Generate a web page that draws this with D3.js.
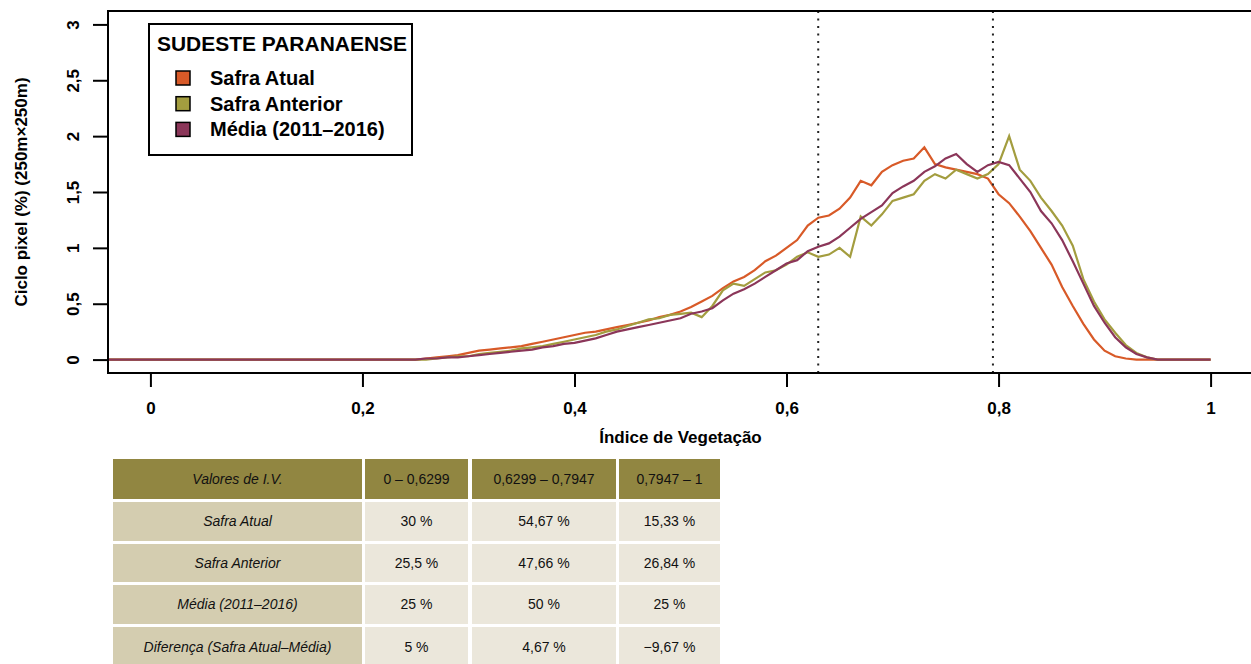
<!DOCTYPE html>
<html><head><meta charset="utf-8">
<script src="https://cdn.jsdelivr.net/npm/d3@7"></script>
<style>
html,body{margin:0;padding:0;background:#fff;}
svg{display:block;font-family:"Liberation Sans",Arial,sans-serif;}
</style></head>
<body>
<svg id="chart" width="1251" height="664"></svg>
<script>
// ---------- data ----------
const ivStart = 0.25, ivStep = 0.01;
const safraAtual = [0,0.01,0.02,0.03,0.04,0.06,0.08,0.09,0.10,0.11,0.12,0.14,0.16,0.18,0.20,0.22,0.24,0.25,0.27,0.29,
  0.31,0.33,0.35,0.38,0.40,0.43,0.47,0.52,0.57,0.64,0.70,0.74,0.80,0.88,0.93,1.00,1.07,1.20,1.27,1.29,
  1.35,1.45,1.60,1.56,1.68,1.74,1.78,1.80,1.90,1.75,1.72,1.70,1.68,1.66,1.62,1.48,1.40,1.28,1.15,1.00,
  0.85,0.65,0.48,0.32,0.18,0.08,0.03,0.01,0,0,0,0];
const safraAnterior = [0,0,0.01,0.02,0.03,0.03,0.05,0.06,0.07,0.08,0.10,0.11,0.12,0.14,0.16,0.18,0.20,0.22,0.25,0.27,
  0.30,0.33,0.36,0.37,0.40,0.41,0.42,0.38,0.48,0.62,0.68,0.66,0.72,0.78,0.80,0.85,0.92,0.96,0.92,0.94,
  1.00,0.92,1.28,1.20,1.30,1.42,1.45,1.48,1.60,1.66,1.62,1.70,1.66,1.62,1.66,1.75,2.00,1.70,1.60,1.45,
  1.33,1.20,1.02,0.72,0.52,0.36,0.24,0.13,0.06,0.02,0,0];
const media = [0,0.01,0.01,0.02,0.02,0.03,0.04,0.05,0.06,0.07,0.08,0.09,0.11,0.12,0.14,0.15,0.17,0.19,0.22,0.25,
  0.27,0.29,0.31,0.33,0.35,0.37,0.41,0.43,0.46,0.53,0.59,0.63,0.68,0.74,0.80,0.86,0.89,0.97,1.01,1.04,
  1.10,1.18,1.26,1.32,1.38,1.49,1.55,1.60,1.68,1.73,1.80,1.84,1.75,1.68,1.74,1.77,1.74,1.62,1.50,1.33,
  1.22,1.07,0.88,0.68,0.48,0.33,0.20,0.11,0.05,0.02,0,0];
const seriesNames = ["Safra Atual", "Safra Anterior", "Média (2011–2016)"];
const seriesColors = ["#d85a28", "#a39d3f", "#8b3659"];
const limits = [0.6299, 0.7947];
const xTicks = [0, 0.2, 0.4, 0.6, 0.8, 1];
const yTicks = [0, 0.5, 1, 1.5, 2, 2.5, 3];
const legendTitle = "SUDESTE PARANAENSE";
const xTitle = "Índice de Vegetação";
const yTitle = "Ciclo pixel (%) (250m×250m)";
const tableHeader = ["Valores de I.V.", "0 – 0,6299", "0,6299 – 0,7947", "0,7947 – 1"];
const tableRowLabels = ["Safra Atual", "Safra Anterior", "Média (2011–2016)", "Diferença (Safra Atual–Média)"];
const tableValues = [
  ["30 %", "54,67 %", "15,33 %"],
  ["25,5 %", "47,66 %", "26,84 %"],
  ["25 %", "50 %", "25 %"],
  ["5 %", "4,67 %", "−9,67 %"]
];

// ---------- chart ----------
const svg = d3.select("#chart");
const x = d3.scaleLinear().domain([-0.04, 1.04]).range([108, 1253]);
const y = d3.scaleLinear().domain([-0.12, 3.12]).range([373, 11]);
const fmt = d => String(d).replace(".", ",");

function toPoints(arr) {
  const pts = [[x.domain()[0], 0]];
  arr.forEach((v, i) => pts.push([ivStart + i * ivStep, v]));
  pts.push([1, 0]);
  return pts;
}
const allSeries = [safraAtual, safraAnterior, media];

const line = d3.line().x(d => x(d[0])).y(d => y(d[1]));
svg.append("g").selectAll("path").data(allSeries).join("path")
  .attr("d", d => line(toPoints(d)))
  .attr("fill", "none")
  .attr("stroke", (d, i) => seriesColors[i])
  .attr("stroke-width", 2.2)
  .attr("stroke-linejoin", "miter");

// dotted limits
svg.append("g").selectAll("line").data(limits).join("line")
  .attr("x1", d => x(d)).attr("x2", d => x(d))
  .attr("y1", y.range()[1]).attr("y2", y.range()[0])
  .attr("stroke", "#222").attr("stroke-width", 2)
  .attr("stroke-dasharray", "2 5.5");

// plot box
svg.append("rect")
  .attr("x", x.range()[0]).attr("y", y.range()[1])
  .attr("width", x.range()[1] - x.range()[0]).attr("height", y.range()[0] - y.range()[1])
  .attr("fill", "none").attr("stroke", "#000").attr("stroke-width", 2);

// y axis
const yAxis = svg.append("g").attr("transform", `translate(${x.range()[0] - 1},0)`)
  .call(d3.axisLeft(y).tickValues(yTicks).tickSize(14).tickFormat(fmt));
yAxis.select(".domain").remove();
yAxis.selectAll(".tick line").attr("stroke", "#000").attr("stroke-width", 2);
yAxis.selectAll(".tick text")
  .attr("x", null).attr("dy", null)
  .attr("transform", "translate(-28,0) rotate(-90)")
  .attr("text-anchor", "middle")
  .style("font-size", "17px").style("font-weight", "bold").attr("fill", "#000");

// x axis
const xAxis = svg.append("g").attr("transform", `translate(0,${y.range()[0] + 1})`)
  .call(d3.axisBottom(x).tickValues(xTicks).tickSize(13).tickFormat(fmt));
xAxis.select(".domain").remove();
xAxis.selectAll(".tick line").attr("stroke", "#000").attr("stroke-width", 2);
xAxis.selectAll(".tick text").attr("y", 34).attr("dy", "0.35em")
  .style("font-size", "17px").style("font-weight", "bold").attr("fill", "#000");

// axis titles
svg.append("text").attr("x", (x(0) + x(1)) / 2).attr("y", 443)
  .attr("text-anchor", "middle").style("font-size", "17px").style("font-weight", "bold")
  .text(xTitle);
svg.append("text").attr("transform", `translate(27,${(y.range()[0] + y.range()[1]) / 2}) rotate(-90)`)
  .attr("text-anchor", "middle").style("font-size", "17px").style("font-weight", "bold")
  .text(yTitle);

// legend
const lg = svg.append("g");
lg.append("rect").attr("x", 149).attr("y", 24).attr("width", 263).attr("height", 131)
  .attr("fill", "#fff").attr("stroke", "#000").attr("stroke-width", 2);
lg.append("text").attr("x", 157).attr("y", 51).style("font-size", "20px").style("font-weight", "bold")
  .attr("textLength", 250).attr("lengthAdjust", "spacingAndGlyphs").text(legendTitle);
const items = lg.selectAll("g.item").data(seriesNames).join("g").attr("class", "item")
  .attr("transform", (d, i) => `translate(176,${71 + i * 25.7})`);
items.append("rect").attr("width", 14).attr("height", 14)
  .attr("fill", (d, i) => seriesColors[i]).attr("stroke", "#000").attr("stroke-width", 1.5);
items.append("text").attr("x", 34).attr("y", 14).style("font-size", "20px").style("font-weight", "bold")
  .text(d => d);

// table
const colX = [113, 365, 472, 619];
const colW = [249, 103, 144, 101];
const rowY = [459, 502, 544, 585, 627];
const rowH = [40, 39, 38, 39, 40];
const tg = svg.append("g").style("font-size", "14px");
tableHeader.forEach((t, j) => {
  tg.append("rect").attr("x", colX[j]).attr("y", rowY[0]).attr("width", colW[j]).attr("height", rowH[0]).attr("fill", "#918641");
  tg.append("text").attr("x", colX[j] + colW[j] / 2).attr("y", rowY[0] + rowH[0] / 2).attr("dy", "0.35em")
    .attr("text-anchor", "middle").style("font-style", j === 0 ? "italic" : "normal").attr("fill", "#111").text(t);
});
tableRowLabels.forEach((lab, i) => {
  const ry = rowY[i + 1], rh = rowH[i + 1];
  tg.append("rect").attr("x", colX[0]).attr("y", ry).attr("width", colW[0]).attr("height", rh).attr("fill", "#d4cdb0");
  tg.append("text").attr("x", colX[0] + colW[0] / 2).attr("y", ry + rh / 2).attr("dy", "0.35em")
    .attr("text-anchor", "middle").style("font-style", "italic").attr("fill", "#111").text(lab);
  tableValues[i].forEach((v, j) => {
    tg.append("rect").attr("x", colX[j + 1]).attr("y", ry).attr("width", colW[j + 1]).attr("height", rh).attr("fill", "#ebe7db");
    tg.append("text").attr("x", colX[j + 1] + colW[j + 1] / 2).attr("y", ry + rh / 2).attr("dy", "0.35em")
      .attr("text-anchor", "middle").attr("fill", "#111").text(v);
  });
});
</script>
</body></html>
